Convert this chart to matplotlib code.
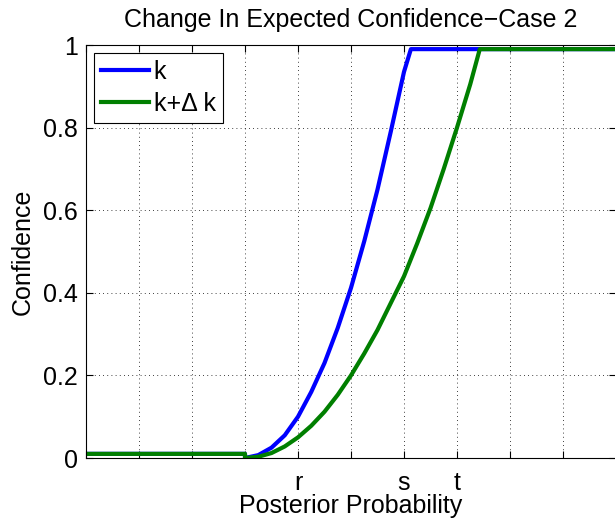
import matplotlib
matplotlib.use('Agg')
import matplotlib.pyplot as plt
import numpy as np

plt.rcParams['font.family'] = ['Liberation Sans', 'DejaVu Sans']

# values
x_k = [0.0, 0.3, 0.3, 0.325, 0.35, 0.375, 0.4, 0.425, 0.45, 0.475, 0.5, 0.525,
       0.55, 0.575, 0.6, 0.613, 1.0]
y_k = [0.01, 0.01, 0.0, 0.007, 0.025, 0.055, 0.1, 0.16, 0.23, 0.315, 0.412, 0.525,
       0.65, 0.79, 0.935, 0.99, 0.99]

x_dk = [0.0, 0.3, 0.3, 0.325, 0.35, 0.375, 0.4, 0.425, 0.45, 0.475, 0.5, 0.525,
        0.55, 0.575, 0.6, 0.625, 0.65, 0.675, 0.7, 0.725, 0.743, 1.0]
y_dk = [0.01, 0.01, 0.0, 0.003, 0.012, 0.028, 0.05, 0.078, 0.112, 0.153, 0.2, 0.253,
        0.31, 0.375, 0.44, 0.52, 0.605, 0.70, 0.80, 0.905, 0.99, 0.99]

xticks = np.arange(0, 1.01, 0.1)
xticklabels = ['', '', '', '', 'r', '', 's', 't', '', '', '']
yticks = [0, 0.2, 0.4, 0.6, 0.8, 1]
yticklabels = ['0', '0.2', '0.4', '0.6', '0.8', '1']

fig = plt.figure(figsize=(6.15, 5.24), dpi=100)
ax = fig.add_axes([86/615, 66/524, 530/615, 413/524])

ax.plot(x_k, y_k, color='#0000ff', lw=3, label='k', solid_joinstyle='round')
ax.plot(x_dk, y_dk, color='#007f00', lw=3, label='k+\u0394 k', solid_joinstyle='round')

ax.set_xlim(0, 1)
ax.set_ylim(0, 1)
ax.set_xticks(xticks)
ax.set_xticklabels(xticklabels)
ax.set_yticks(yticks)
ax.set_yticklabels(yticklabels)
ax.tick_params(axis='x', direction='in', top=True, labelsize=18, length=5, pad=9)
ax.tick_params(axis='y', direction='in', right=True, labelsize=18, length=5, pad=6)
ax.grid(True, color='black', linestyle=(0, (1, 4)), linewidth=0.6)

ax.set_title('Change In Expected Confidence\u2212Case 2', fontsize=18, pad=13)
ax.set_xlabel('Posterior Probability', fontsize=18, labelpad=0)
ax.set_ylabel('Confidence', fontsize=18, labelpad=6)

leg = ax.legend(loc='upper left', fontsize=18, fancybox=False, framealpha=1,
                edgecolor='black', handlelength=1.9, borderpad=0.3,
                labelspacing=0.3, handletextpad=0.2, borderaxespad=0.3)
leg.get_frame().set_linewidth(0.8)

plt.savefig('out.png', dpi=100)
